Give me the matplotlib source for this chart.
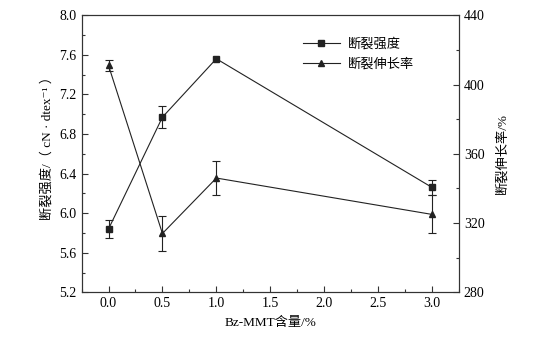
import matplotlib
matplotlib.use("Agg")
import matplotlib.pyplot as plt
from matplotlib.ticker import MultipleLocator, FormatStrFormatter
from matplotlib.lines import Line2D

plt.rcParams['font.family'] = ['Liberation Serif', 'Noto Sans CJK SC', 'DejaVu Sans']
plt.rcParams['font.size'] = 9

# data
mmt_content = [0.0, 0.5, 1.0, 3.0]
strength = [5.84, 6.97, 7.56, 6.26]
strength_err = [0.09, 0.11, float('nan'), 0.08]
elongation = [411, 314, 346, 325]
elongation_err = [3, 10, 10, 11]

fig = plt.figure(figsize=(5.4, 3.38), dpi=100)
ax = fig.add_axes([0.151, 0.135, 0.699, 0.82])
ax2 = ax.twinx()

line_kw = dict(color='#222222', linewidth=0.8, ecolor='#222222',
               elinewidth=0.8, capsize=3, capthick=0.8, markersize=4.5)

ax.errorbar(mmt_content, strength, yerr=strength_err, marker='s', **line_kw)
ax2.errorbar(mmt_content, elongation, yerr=elongation_err, marker='^', **line_kw)

ax.set_xlim(-0.25, 3.25)
ax.set_ylim(5.2, 8.0)
ax2.set_ylim(280, 440)

ax.xaxis.set_major_locator(MultipleLocator(0.5))
ax.xaxis.set_minor_locator(MultipleLocator(0.25))
ax.yaxis.set_major_locator(MultipleLocator(0.4))
ax.yaxis.set_minor_locator(MultipleLocator(0.2))
ax2.yaxis.set_major_locator(MultipleLocator(40))
ax2.yaxis.set_minor_locator(MultipleLocator(20))
ax.yaxis.set_major_formatter(FormatStrFormatter('%.1f'))
ax.xaxis.set_major_formatter(FormatStrFormatter('%.1f'))

for a in (ax, ax2):
    a.tick_params(which='both', direction='in', top=False, labelsize=10,
                  color='#333333', width=0.8)
    a.tick_params(which='major', length=4)
    a.tick_params(which='minor', length=2.5)
    for s in a.spines.values():
        s.set_linewidth(0.8)
        s.set_color('#333333')

ax.set_xlabel('Bz-MMT含量/%', fontsize=9.5, labelpad=5)
ax.set_ylabel('断裂强度/（ cN · dtex⁻¹ ）', fontsize=9.5, labelpad=1)
ax.yaxis.set_label_coords(-0.075, 0.53)
ax2.set_ylabel('断裂伸长率/%', fontsize=9.5, labelpad=8)

handles = [Line2D([], [], color='#222222', lw=0.8, marker='s', markersize=4.5),
           Line2D([], [], color='#222222', lw=0.8, marker='^', markersize=4.5)]
ax.legend(handles, ['断裂强度', '断裂伸长率'], loc='upper left',
          bbox_to_anchor=(0.555, 0.96), frameon=False, fontsize=9.5,
          handlelength=2.8, handletextpad=0.6, labelspacing=0.55)

plt.savefig('out.png', dpi=100)
